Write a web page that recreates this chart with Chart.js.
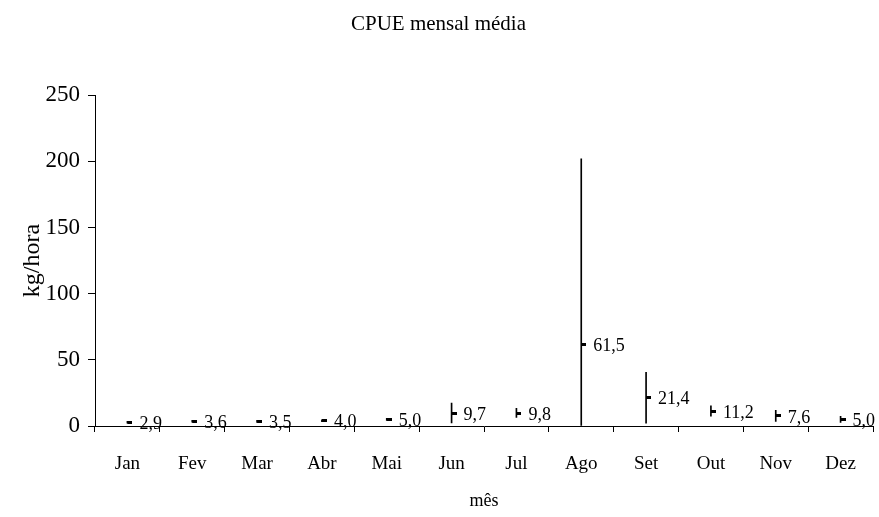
<!DOCTYPE html>
<html>
<head>
<meta charset="utf-8">
<title>CPUE mensal média</title>
<script src="https://cdn.jsdelivr.net/npm/chart.js@4/dist/chart.umd.min.js"></script>
<style>
  html, body { margin: 0; padding: 0; background: #fff; }
  canvas { display: block; }
</style>
</head>
<body>
<canvas id="cpue" width="879" height="517"></canvas>
<script>
// Months of the year (x categories)
const months = ['Jan', 'Fev', 'Mar', 'Abr', 'Mai', 'Jun', 'Jul', 'Ago', 'Set', 'Out', 'Nov', 'Dez'];
// Mean monthly CPUE (kg/hora)
const meanCpue = [2.9, 3.6, 3.5, 4.0, 5.0, 9.7, 9.8, 61.5, 21.4, 11.2, 7.6, 5.0];
// Lower and upper ends of the error bars (kg/hora)
const errLow  = [2.2, 2.9, 2.8, 3.3, 4.2, 2.3, 6.4, 0, 2.2, 7.4, 3.4, 2.8];
// upper ends
const errHigh = [3.6, 4.3, 4.2, 4.7, 5.8, 17.4, 13.4, 202, 40.6, 15.2, 11.8, 7.3];
// Value axis ticks
const yTicks = [0, 50, 100, 150, 200, 250];

const serif = "'Liberation Serif', 'Times New Roman', serif";

// Mean marker: short horizontal dash that starts at the error bar line
const dash = document.createElement('canvas');
dash.width = 10; dash.height = 3;
(function () {
  const c = dash.getContext('2d');
  c.fillStyle = '#000';
  c.fillRect(5, 0, 5, 3);
})();

// Writes the mean value next to each marker, with a decimal comma
const valueLabels = {
  id: 'valueLabels',
  afterDatasetsDraw(chart) {
    const meta = chart.getDatasetMeta(1);
    const ctx = chart.ctx;
    ctx.save();
    ctx.font = '18px ' + serif;
    ctx.fillStyle = '#000';
    ctx.textAlign = 'left';
    ctx.textBaseline = 'middle';
    meta.data.forEach((pt, i) => {
      const txt = meanCpue[i].toFixed(1).replace('.', ',');
      ctx.fillText(txt, pt.x + 12, pt.y + 2);
    });
    ctx.restore();
  }
};

new Chart(document.getElementById('cpue'), {
  type: 'bar',
  data: {
    labels: months,
    datasets: [
      {
        type: 'bar',
        data: months.map((m, i) => [errLow[i], errHigh[i]]),
        backgroundColor: '#000',
        borderWidth: 0,
        barThickness: 1,
        order: 2
      },
      {
        type: 'line',
        data: meanCpue,
        showLine: false,
        pointStyle: dash,
        pointRadius: 5,
        order: 1
      }
    ]
  },
  options: {
    responsive: false,
    animation: false,
    devicePixelRatio: 1,
    layout: { padding: { left: 0, right: 2, top: 0, bottom: 0 } },
    plugins: {
      legend: { display: false },
      tooltip: { enabled: false },
      title: {
        display: true,
        text: 'CPUE mensal média',
        color: '#000',
        font: { family: serif, size: 21, weight: 'normal' },
        padding: { top: 12, bottom: 58 }
      }
    },
    scales: {
      x: {
        offset: true,
        grid: {
          offset: true,
          drawOnChartArea: false,
          drawTicks: true,
          tickLength: 6,
          color: '#000'
        },
        border: { color: '#000', width: 1 },
        ticks: {
          color: '#000',
          font: { family: serif, size: 19 },
          padding: 21,
          maxRotation: 0
        },
        title: {
          display: true,
          text: 'mês',
          color: '#000',
          font: { family: serif, size: 18 },
          padding: { top: 0, bottom: 5 }
        },
        afterFit(scale) { scale.height = 91; }
      },
      y: {
        min: 0,
        max: 250,
        afterBuildTicks(scale) { scale.ticks = yTicks.map(v => ({ value: v })); },
        grid: {
          drawOnChartArea: false,
          drawTicks: true,
          tickLength: 7,
          color: '#000'
        },
        border: { color: '#000', width: 1 },
        ticks: {
          color: '#000',
          font: { family: serif, size: 23 },
          padding: 8
        },
        title: {
          display: true,
          text: 'kg/hora',
          color: '#000',
          font: { family: serif, size: 24 },
          padding: { top: 18, bottom: 0 }
        },
        afterFit(scale) { scale.width = 95; }
      }
    }
  },
  plugins: [valueLabels]
});
</script>
</body>
</html>
